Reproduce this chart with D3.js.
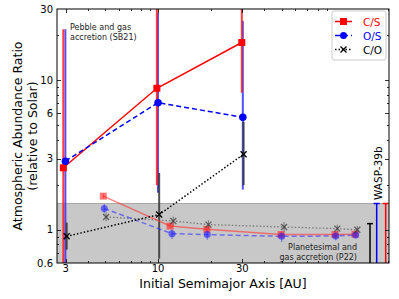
<!DOCTYPE html>
<html><head><meta charset="utf-8">
<script src="https://cdn.jsdelivr.net/npm/d3@7"></script>
<style>body{margin:0;background:#fff}svg{display:block;font-family:"DejaVu Sans",sans-serif}</style>
</head><body><svg id="c" width="399" height="299"></svg>
<script>
// ---- data ----
// Pebble and gas accretion (SB21)
const pebCS_x = [2.91, 9.85, 29.8];
const pebCS = [2.6, 8.85, 17.9];
const pebCS_lo = [0.3, 1.99, 8.27];
const pebCS_hi = [22, 60, 60];
const pebOS_x = [2.99, 10.0, 30.2];
const pebOS = [2.88, 7.09, 5.66];
const pebOS_lo = [0.3, 1.77, 1.86];
const pebOS_hi = [22, 28.2, 25];
const pebCO_x = [3.04, 10.15, 30.5];
const pebCO = [0.905, 1.265, 3.2];
const pebCO_lo = [0.737, 0.641, 1.99];
const pebCO_hi = [1.118, 2.40, 5.28];
// Planetesimal and gas accretion (P22)
const plaCS_x = [4.90, 11.7, 18.9, 49.7, 100.4, 130.3];
const plaCS = [1.68, 1.06, 1.008, 0.929, 0.929, 0.934];
const plaCS_lo = [1.62, 1.02, 0.97, 0.89, 0.89, 0.90];
const plaCS_hi = [1.74, 1.10, 1.05, 0.97, 0.97, 0.97];
const plaOS_x = [4.96, 12.0, 19.0, 50.1, 101.4, 131.5];
const plaOS = [1.39, 0.943, 0.929, 0.905, 0.909, 0.924];
const plaOS_lo = [1.29, 0.87, 0.86, 0.83, 0.85, 0.88];
const plaOS_hi = [1.49, 1.01, 1.00, 0.97, 0.96, 0.97];
const plaCO_x = [5.08, 12.2, 19.3, 51.7, 103.5, 134.3];
const plaCO = [1.22, 1.146, 1.084, 1.045, 1.019, 1.0];
const plaCO_lo = [1.14, 1.07, 1.01, 0.96, 0.96, 0.95];
const plaCO_hi = [1.31, 1.23, 1.16, 1.13, 1.08, 1.06];
// WASP-39b constraints
const waspX = [158.5, 172.9, 194.4];
const waspLo = [0.3, 0.3, 0.3];
const waspHi = [1.1, 1.5, 1.5];
const waspColor = ["#000000", "#0000ff", "#ff0000"];
const bandRange = [0.3, 1.5];
// ticks
const xMajor = [3, 10, 30];
const xMinor = [4, 5, 6, 7, 8, 9, 20, 40, 50, 60, 70, 80, 90, 200];
const yMajor = [0.6, 1, 3, 6, 10, 30];
const yMinor = [0.7, 0.8, 0.9, 2, 4, 5, 7, 8, 9, 20];
const legendItems = [
  {label: "C/S", color: "#ff0000", dash: null, marker: "square"},
  {label: "O/S", color: "#0000ff", dash: "5,3", marker: "circle"},
  {label: "C/O", color: "#000000", dash: "1.5,2", marker: "x"}
];

// ---- layout ----
const L = 57, R = 389, T = 9, B = 263;
const svg = d3.select("#c");
const x = d3.scaleLog().domain([2.68, 203]).range([L, R]);
const y = d3.scaleLog().domain([0.6, 30]).range([B, T]);

svg.append("defs").append("clipPath").attr("id", "clip")
  .append("rect").attr("x", L).attr("y", T).attr("width", R - L).attr("height", B - T);
const g = svg.append("g").attr("clip-path", "url(#clip)");

// gray band
g.append("rect").attr("x", L).attr("width", R - L)
  .attr("y", y(bandRange[1])).attr("height", y(bandRange[0]) - y(bandRange[1]))
  .attr("fill", "#c8c8c8");
g.append("line").attr("x1", L).attr("x2", R).attr("y1", y(bandRange[1])).attr("y2", y(bandRange[1]))
  .attr("stroke", "#a8a8a8").attr("stroke-width", 1);

function errbars(xs, lo, hi, color, width, op) {
  g.selectAll(null).data(xs).enter().append("line")
    .attr("x1", d => x(d)).attr("x2", d => x(d))
    .attr("y1", (d, i) => y(lo[i])).attr("y2", (d, i) => y(hi[i]))
    .attr("stroke", color).attr("stroke-width", width).attr("opacity", op);
}
function series(xs, ys, color, width, dash, op) {
  const line = d3.line().x((d, i) => x(xs[i])).y(d => y(d));
  g.append("path").datum(ys).attr("d", line).attr("fill", "none")
    .attr("stroke", color).attr("stroke-width", width)
    .attr("stroke-dasharray", dash).attr("opacity", op);
}
function markers(xs, ys, color, type, size, op, parent) {
  const p = parent || g;
  xs.forEach((xv, i) => {
    const cx = x(xv), cy = y(ys[i]);
    if (type === "square") {
      p.append("rect").attr("x", cx - size / 2).attr("y", cy - size / 2)
        .attr("width", size).attr("height", size).attr("fill", color).attr("opacity", op);
    } else if (type === "circle") {
      p.append("circle").attr("cx", cx).attr("cy", cy).attr("r", size / 2)
        .attr("fill", color).attr("opacity", op);
    } else {
      const h = size / 2;
      p.append("path").attr("d", `M${cx - h},${cy - h}L${cx + h},${cy + h}M${cx - h},${cy + h}L${cx + h},${cy - h}`)
        .attr("stroke", color).attr("stroke-width", 1.3).attr("opacity", op);
    }
  });
}

// pebble error bars
errbars(pebOS_x, pebOS_lo, pebOS_hi, "#3333ff", 2, 0.85);
errbars(pebCS_x, pebCS_lo, pebCS_hi, "#ff1a1a", 2, 0.85);
errbars(pebCO_x, pebCO_lo, pebCO_hi, "#333333", 2, 0.85);

// planetesimal series (faded)
errbars(plaCS_x, plaCS_lo, plaCS_hi, "#ff4040", 1.2, 0.6);
errbars(plaOS_x, plaOS_lo, plaOS_hi, "#4040ff", 1.2, 0.6);
errbars(plaCO_x, plaCO_lo, plaCO_hi, "#555555", 1.2, 0.6);
series(plaCO_x, plaCO, "#555555", 1.3, "1.5,2", 0.7);
series(plaCS_x, plaCS, "#ff3030", 1.5, null, 0.6);
series(plaOS_x, plaOS, "#3030ff", 1.5, "5,3", 0.6);
markers(plaCS_x, plaCS, "#ff2020", "square", 7, 0.6);
markers(plaOS_x, plaOS, "#2020ff", "circle", 7, 0.6);
markers(plaCO_x, plaCO, "#333333", "x", 6, 0.7);

// pebble lines and markers
series(pebCS_x, pebCS, "#ff0000", 1.5, null, 1);
series(pebOS_x, pebOS, "#0000ff", 1.5, "5,3", 1);
series(pebCO_x, pebCO, "#000000", 1.5, "1.5,2", 1);
markers(pebCS_x, pebCS, "#ff0000", "square", 7, 1);
markers(pebOS_x, pebOS, "#0000ff", "circle", 7.5, 1);
markers(pebCO_x, pebCO, "#000000", "x", 6, 1);

// WASP-39b bars with caps
waspX.forEach((xv, i) => {
  const cx = x(xv);
  g.append("line").attr("x1", cx).attr("x2", cx).attr("y1", y(waspLo[i])).attr("y2", y(waspHi[i]))
    .attr("stroke", waspColor[i]).attr("stroke-width", 1.5);
  g.append("line").attr("x1", cx - 3).attr("x2", cx + 3).attr("y1", y(waspHi[i])).attr("y2", y(waspHi[i]))
    .attr("stroke", waspColor[i]).attr("stroke-width", 1.5);
});

// annotations
svg.append("text").attr("transform", `translate(${x(waspX[1]) + 1},200) rotate(-90)`)
  .attr("font-size", 10.5).attr("fill", "#000").attr("dominant-baseline", "central").text("WASP-39b");
const t1 = svg.append("text").attr("font-size", 8).attr("fill", "#222");
t1.append("tspan").attr("x", 70).attr("y", 29.5).text("Pebble and gas");
t1.append("tspan").attr("x", 70).attr("y", 39.5).text("accretion (SB21)");
const t2 = svg.append("text").attr("font-size", 8).attr("fill", "#222").attr("text-anchor", "end");
t2.append("tspan").attr("x", 357).attr("y", 250).text("Planetesimal and");
t2.append("tspan").attr("x", 357).attr("y", 260).text("gas accretion (P22)");

// axes: spines & inward ticks
const ax = svg.append("g");
ax.append("rect").attr("x", L).attr("y", T).attr("width", R - L).attr("height", B - T)
  .attr("fill", "none").attr("stroke", "#000").attr("stroke-width", 1);
function xt(vals, len) {
  vals.forEach(v => {
    const px = Math.round(x(v)) + 0.5;
    ax.append("line").attr("x1", px).attr("x2", px).attr("y1", B).attr("y2", B - len).attr("stroke", "#000").attr("stroke-width", 0.8);
    ax.append("line").attr("x1", px).attr("x2", px).attr("y1", T).attr("y2", T + len).attr("stroke", "#000").attr("stroke-width", 0.8);
  });
}
function yt(vals, len) {
  vals.forEach(v => {
    const py = Math.round(y(v)) + 0.5;
    ax.append("line").attr("x1", L).attr("x2", L + len).attr("y1", py).attr("y2", py).attr("stroke", "#000").attr("stroke-width", 0.8);
    ax.append("line").attr("x1", R).attr("x2", R - len).attr("y1", py).attr("y2", py).attr("stroke", "#000").attr("stroke-width", 0.8);
  });
}
xt(xMajor, 4); xt(xMinor, 2); yt(yMajor.slice(1, -1), 4); yt(yMinor, 2);
xMajor.forEach(v => ax.append("text").attr("x", x(v)).attr("y", 272).attr("text-anchor", "middle")
  .attr("font-size", 10).text(d3.format("~g")(v)));
yMajor.forEach(v => ax.append("text").attr("x", 53).attr("y", y(v)).attr("text-anchor", "end")
  .attr("dominant-baseline", "central").attr("font-size", 10).text(d3.format("~g")(v)));

// axis labels
svg.append("text").attr("x", (L + R) / 2).attr("y", 288).attr("text-anchor", "middle")
  .attr("font-size", 12.5).text("Initial Semimajor Axis [AU]");
const yl = svg.append("text").attr("transform", `translate(0,${(T + B) / 2}) rotate(-90)`)
  .attr("text-anchor", "middle").attr("font-size", 12.5);
yl.append("tspan").attr("x", 0).attr("y", 22).text("Atmospheric Abundance Ratio");
yl.append("tspan").attr("x", 0).attr("y", 37).text("(relative to Solar)");

// legend
const lg = svg.append("g");
lg.append("rect").attr("x", 332).attr("y", 11).attr("width", 54).attr("height", 49).attr("rx", 2)
  .attr("fill", "#fff").attr("fill-opacity", 0.85).attr("stroke", "#cccccc");
legendItems.forEach((d, i) => {
  const yy = 21.5 + i * 14;
  lg.append("line").attr("x1", 335).attr("x2", 352).attr("y1", yy).attr("y2", yy)
    .attr("stroke", d.color).attr("stroke-width", 1.5).attr("stroke-dasharray", d.dash);
  const cx = 343.5;
  if (d.marker === "square") lg.append("rect").attr("x", cx - 3.5).attr("y", yy - 3.5).attr("width", 7).attr("height", 7).attr("fill", d.color);
  else if (d.marker === "circle") lg.append("circle").attr("cx", cx).attr("cy", yy).attr("r", 3.5).attr("fill", d.color);
  else lg.append("path").attr("d", `M${cx - 3},${yy - 3}L${cx + 3},${yy + 3}M${cx - 3},${yy + 3}L${cx + 3},${yy - 3}`).attr("stroke", d.color).attr("stroke-width", 1.3);
  lg.append("text").attr("x", 363).attr("y", yy).attr("dominant-baseline", "central")
    .attr("font-size", 10.5).attr("fill", d.color).text(d.label);
});
</script></body></html>
